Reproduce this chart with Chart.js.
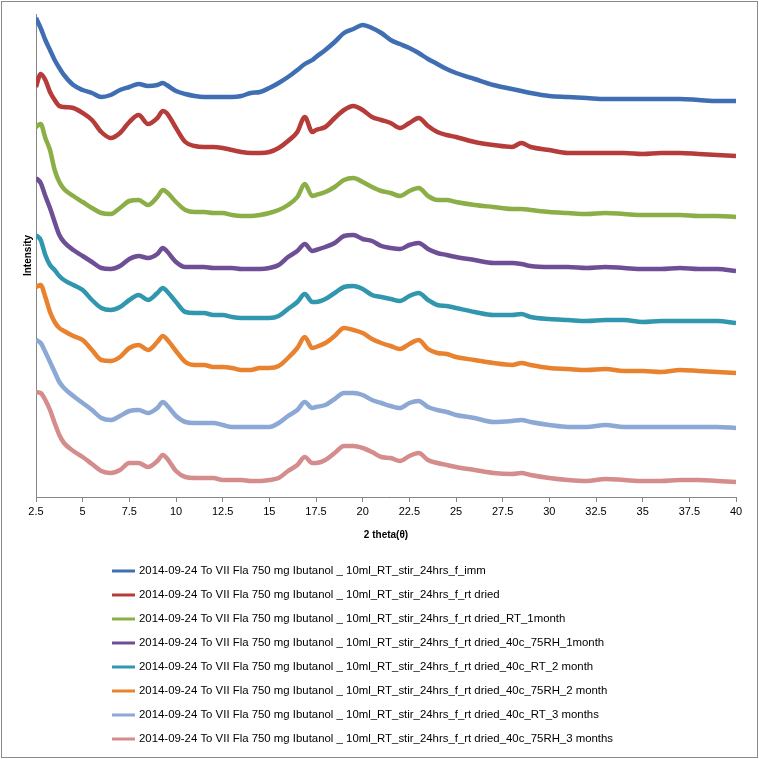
<!DOCTYPE html>
<html>
<head>
<meta charset="utf-8">
<script src="https://cdn.jsdelivr.net/npm/chart.js@4/dist/chart.umd.min.js"></script>
<style>
  html, body { margin: 0; padding: 0; background: #fff; }
  canvas { display: block; }
</style>
</head>
<body>
<canvas id="xrdChart" width="759" height="759"></canvas>
<script>
// 2 theta positions (deg) used for every pattern
const twoTheta = [2.5, 2.75, 3, 3.25, 3.5, 3.75, 4, 4.5, 5, 5.5,
    6, 6.5, 7, 7.5, 8, 8.5, 9, 9.3, 9.5, 10,
    10.5, 11, 11.5, 12, 12.5, 13, 13.5, 14, 14.5, 15,
    15.5, 16, 16.5, 16.9, 17.3, 17.5, 18, 18.5, 19, 19.5,
    20, 20.5, 21, 21.5, 22, 22.5, 23, 23.5, 24, 24.5,
    25, 26, 27, 28, 28.5, 29, 30, 31, 32, 33,
    34, 35, 36, 37, 38, 39, 40];

const xTicks = [2.5, 5, 7.5, 10, 12.5, 15, 17.5, 20, 22.5, 25, 27.5, 30, 32.5, 35, 37.5, 40];

// stacked (offset) intensities
const immIntensity = [479, 469, 457, 447, 437, 429, 422, 412, 407, 404,
    400, 402, 407, 410, 413, 411, 412, 414, 412, 406,
    403, 401, 400, 400, 400, 400, 401, 404, 405, 409,
    414, 420, 427, 433, 437, 440, 447, 455, 464, 468,
    472, 469, 464, 457, 453, 449, 444, 438, 433, 428,
    424, 418, 412, 408, 406, 404, 401, 400, 399, 398,
    398, 398, 398, 398, 397, 396, 396];

const rtDriedIntensity = [410, 423, 417, 405, 397, 391, 390, 389, 384, 377,
    365, 359, 364, 375, 382, 373, 379, 386, 384, 369,
    355, 351, 350, 350, 349, 347, 345, 344, 344, 345,
    349, 356, 365, 380, 365, 367, 370, 379, 387, 391,
    387, 380, 377, 374, 369, 374, 379, 371, 365, 362,
    360, 355, 352, 350, 354, 350, 347, 344, 344, 344,
    344, 343, 344, 344, 343, 342, 341];

const rt1MonthIntensity = [370, 373, 359, 347, 327, 315, 308, 301, 295, 289,
    284, 283, 289, 296, 297, 292, 300, 307, 305, 295,
    287, 285, 285, 284, 284, 282, 281, 281, 282, 284,
    287, 292, 300, 313, 301, 302, 305, 310, 317, 319,
    315, 310, 306, 304, 301, 306, 309, 301, 297, 297,
    295, 292, 290, 288, 288, 287, 285, 284, 283, 284,
    283, 282, 282, 282, 281, 281, 280];

const rh1MonthIntensity = [319, 314, 301, 289, 275, 262, 255, 247, 241, 235,
    229, 228, 231, 238, 241, 239, 243, 249, 246, 235,
    230, 230, 230, 229, 229, 229, 228, 228, 228, 229,
    232, 240, 246, 253, 246, 247, 250, 254, 261, 262,
    258, 256, 251, 249, 248, 252, 254, 248, 244, 242,
    240, 237, 234, 234, 233, 231, 230, 230, 229, 230,
    229, 228, 228, 229, 228, 228, 226];

const rt2MonthIntensity = [262, 257, 242, 232, 227, 221, 217, 212, 207, 197,
    189, 187, 190, 197, 202, 197, 204, 209, 206, 195,
    185, 184, 184, 182, 182, 180, 179, 179, 179, 179,
    181, 188, 195, 203, 195, 195, 198, 204, 210, 211,
    208, 202, 200, 198, 196, 201, 204, 197, 192, 191,
    189, 185, 182, 182, 183, 180, 178, 177, 176, 177,
    177, 175, 176, 176, 176, 176, 174];

const rh2MonthIntensity = [210, 212, 200, 185, 175, 169, 166, 161, 157, 147,
    137, 136, 140, 149, 152, 147, 155, 161, 158, 146,
    135, 132, 132, 130, 130, 129, 127, 127, 129, 129,
    131, 139, 149, 160, 149, 150, 154, 161, 169, 167,
    164, 158, 154, 151, 148, 153, 157, 148, 144, 143,
    140, 137, 134, 132, 134, 132, 129, 128, 127, 128,
    126, 126, 125, 127, 126, 125, 124];

const rt3MonthIntensity = [157, 154, 145, 135, 125, 115, 109, 101, 94, 87,
    79, 77, 81, 86, 87, 84, 89, 95, 92, 81,
    75, 74, 74, 74, 72, 70, 70, 70, 70, 70,
    74, 81, 87, 95, 89, 90, 92, 98, 104, 104,
    102, 97, 94, 91, 89, 94, 96, 90, 87, 85,
    82, 79, 75, 76, 77, 75, 72, 70, 70, 72,
    70, 70, 70, 70, 70, 70, 69];

const rh3MonthIntensity = [105, 104, 97, 87, 74, 62, 54, 46, 40, 33,
    26, 24, 27, 34, 34, 30, 36, 42, 39, 26,
    20, 19, 19, 19, 17, 17, 17, 16, 16, 17,
    19, 26, 32, 40, 34, 34, 37, 44, 51, 51,
    49, 45, 40, 39, 36, 41, 44, 37, 34, 32,
    30, 27, 24, 23, 24, 22, 19, 17, 16, 18,
    17, 16, 16, 17, 17, 16, 15];

const prefix = "2014-09-24 To VII Fla 750 mg Ibutanol _ 10ml_RT_stir_24hrs_f_";
const seriesNames = [
    prefix + "imm",
    prefix + "rt dried",
    prefix + "rt dried_RT_1month",
    prefix + "rt dried_40c_75RH_1month",
    prefix + "rt dried_40c_RT_2 month",
    prefix + "rt dried_40c_75RH_2 month",
    prefix + "rt dried_40c_RT_3 months",
    prefix + "rt dried_40c_75RH_3 months"
];
const seriesValues = [immIntensity, rtDriedIntensity, rt1MonthIntensity, rh1MonthIntensity,
    rt2MonthIntensity, rh2MonthIntensity, rt3MonthIntensity, rh3MonthIntensity];
const seriesColors = ["#3F6EB3", "#B53C39", "#8BAE47", "#6E4F96", "#3197AF", "#E9822E", "#8CA8D4", "#D58C8C"];

const datasets = seriesValues.map((vals, i) => ({
    label: seriesNames[i],
    data: vals.map((v, j) => ({ x: twoTheta[j], y: v })),
    borderColor: seriesColors[i],
    backgroundColor: seriesColors[i],
    borderWidth: 4.5,
    pointRadius: 0,
    cubicInterpolationMode: "monotone",
    fill: false
}));

// white page + grey frame round the whole chart
const framePlugin = {
    id: "frame",
    beforeDraw(chart) {
        const c = chart.ctx;
        c.save();
        c.fillStyle = "#fff";
        c.fillRect(0, 0, chart.width, chart.height);
        c.strokeStyle = "#8a8a8a";
        c.lineWidth = 1;
        c.strokeRect(1.5, 1.5, chart.width - 3, chart.height - 3);
        c.restore();
    }
};

// one legend entry per row, left aligned under the plot
const listLegend = {
    id: "listLegend",
    afterDraw(chart) {
        const c = chart.ctx;
        c.save();
        c.font = "11.4px 'Liberation Sans', Arial, sans-serif";
        c.textBaseline = "middle";
        c.fillStyle = "#000";
        chart.data.datasets.forEach((ds, i) => {
            const y = 571 + i * 24;
            c.strokeStyle = ds.borderColor;
            c.lineWidth = 3;
            c.beginPath();
            c.moveTo(112, y);
            c.lineTo(135, y);
            c.stroke();
            c.fillText(ds.label, 139, y);
        });
        c.restore();
    }
};

const ctx = document.getElementById("xrdChart").getContext("2d");
new Chart(ctx, {
    type: "line",
    data: { datasets },
    plugins: [framePlugin, listLegend],
    options: {
        responsive: false,
        animation: false,
        layout: { padding: { left: 0, top: 14, right: 23, bottom: 212 } },
        plugins: {
            legend: { display: false },
            tooltip: { enabled: false }
        },
        scales: {
            x: {
                type: "linear",
                min: 2.5,
                max: 40,
                afterBuildTicks: (axis) => { axis.ticks = xTicks.map(v => ({ value: v })); },
                afterFit: (scale) => { scale.height = 50; },
                ticks: {
                    callback: (v) => String(v),
                    color: "#000",
                    padding: 3,
                    maxRotation: 0,
                    autoSkip: false,
                    font: { family: "'Liberation Sans', Arial, sans-serif", size: 11 }
                },
                grid: { display: true, drawOnChartArea: false, drawTicks: true, tickLength: 5, color: "#868686" },
                border: { display: true, color: "#868686", width: 1 },
                title: {
                    display: true,
                    text: "2 theta(θ)",
                    color: "#000",
                    padding: { top: 0, bottom: 6 },
                    font: { family: "'Liberation Sans', Arial, sans-serif", size: 10, weight: "bold" }
                }
            },
            y: {
                min: 0,
                max: 483,
                afterFit: (scale) => { scale.width = 36; },
                ticks: { display: false },
                grid: { display: false },
                border: { display: true, color: "#868686", width: 1 },
                title: {
                    display: true,
                    text: "Intensity",
                    color: "#000",
                    padding: { top: 22, bottom: 0 },
                    font: { family: "'Liberation Sans', Arial, sans-serif", size: 10, weight: "bold" }
                }
            }
        }
    }
});
</script>
</body>
</html>
